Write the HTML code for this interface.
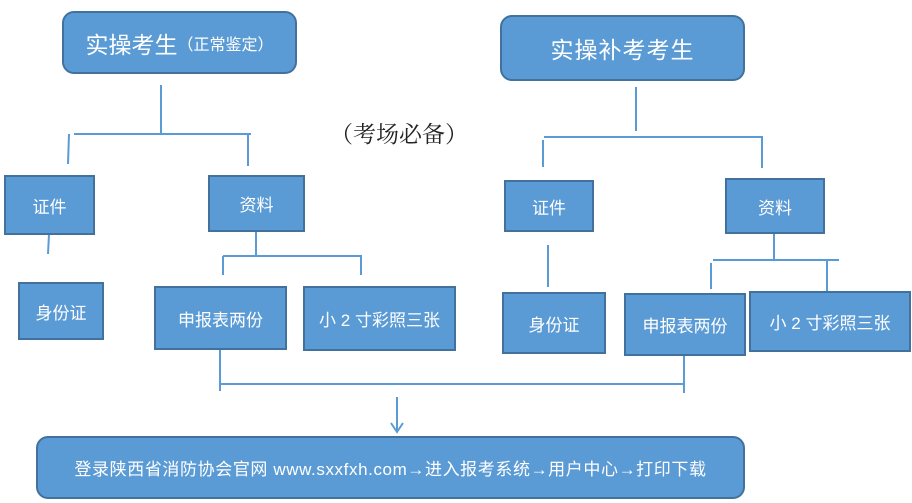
<!DOCTYPE html>
<html><head><meta charset="utf-8"><style>
body{margin:0;width:912px;height:503px;background:#fff;position:relative;overflow:hidden;font-family:"Liberation Sans","Noto Sans CJK SC",sans-serif;}
.b{position:absolute;box-sizing:border-box;background:#5b9bd5;border:2px solid #41719c;color:#fff;display:flex;align-items:center;justify-content:center;font-size:17px;white-space:nowrap;}
.r{border-radius:12px;}
svg{position:absolute;left:0;top:0;}
</style></head><body>
<svg width="912" height="503" stroke="#5b9bd5" stroke-width="2" fill="none">
<path d="M161 85V134M74 134H251M69 134L68 164M248 134V166M49 234L48 254M256 232V256M223 256H362M223 256V275M361 256V275"/>
<path d="M636 87V131M544 137H763M543 140V167M762 137V168M548 245V287M774 233V260M713 260H839M711 263V289M827 261V291"/>
<path d="M220 349V391M220 384H684M684 355V393"/>
<path d="M397 397V432M391 423L397 432L403 423"/>
</svg>
<div class="b r" style="left:62px;top:11px;width:235px;height:63px;font-size:23px;">实操考生<span style="font-size:16px">（正常鉴定）</span></div>
<div class="b r" style="left:500px;top:15px;width:245px;height:66px;font-size:23px;letter-spacing:1px;">实操补考考生</div>
<div style="position:absolute;left:330px;top:116px;font-size:23px;color:#222;font-family:'Liberation Serif','Noto Serif CJK SC',serif;">（考场必备）</div>
<div class="b" style="left:4px;top:175px;width:91px;height:60px;">证件</div>
<div class="b" style="left:208px;top:175px;width:97px;height:57px;">资料</div>
<div class="b" style="left:504px;top:180px;width:90px;height:52px;">证件</div>
<div class="b" style="left:725px;top:178px;width:100px;height:56px;">资料</div>
<div class="b" style="left:18px;top:282px;width:86px;height:58px;">身份证</div>
<div class="b" style="left:154px;top:286px;width:133px;height:64px;">申报表两份</div>
<div class="b" style="left:303px;top:286px;width:153px;height:65px;">小 2 寸彩照三张</div>
<div class="b" style="left:502px;top:292px;width:104px;height:62px;">身份证</div>
<div class="b" style="left:624px;top:293px;width:122px;height:63px;">申报表两份</div>
<div class="b" style="left:749px;top:291px;width:162px;height:61px;">小 2 寸彩照三张</div>
<div class="b r" style="left:36px;top:436px;width:709px;height:63px;font-size:17px;letter-spacing:0.6px;">登录陕西省消防协会官网 www.sxxfxh.com→进入报考系统→用户中心→打印下载</div>
</body></html>
